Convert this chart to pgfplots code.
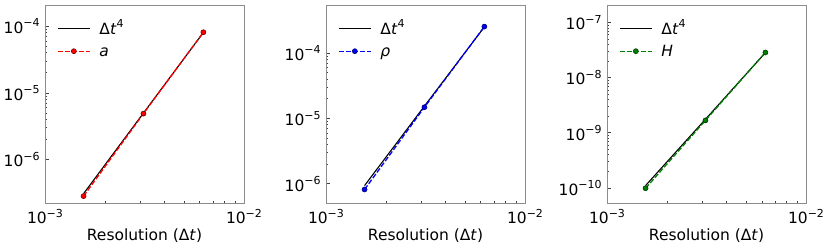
\documentclass[border=0pt]{standalone}
\usepackage{fontspec}
\setmainfont{DejaVu Sans}
\usepackage{pgfplots}
\pgfplotsset{compat=1.18}
\newcommand{\supr}[1]{\raisebox{0.42em}{\fontsize{11}{11}\selectfont #1}}
\newcommand{\sci}[1]{10\supr{−#1}}
\newcommand{\dtf}{Δ\textit{t}\supr{4}}
\pgfplotsset{
  legend image code/.code={\draw[mark repeat=2,mark phase=2,#1] plot coordinates {(0pt,0pt) (16pt,0pt) (32pt,0pt)};},
  every axis/.append style={
    scale only axis, width=199pt, height=198.5pt,
    xmin=1e-3, xmax=1e-2, xtick={1e-3,1e-2}, xticklabels={\sci{3},\sci{2}},
    xtick pos=bottom, ytick pos=left, tick align=inside,
    axis line style={draw=black!45, line width=0.9pt},
    major tick length=4pt, minor tick length=2.5pt,
    every tick/.style={black!75, line width=0.7pt},
    xlabel={Resolution (Δ\textit{t})},
    xlabel style={at={(axis description cs:0.5,0)}, anchor=base, yshift=-36.5pt},
    legend style={draw=none, fill=none, at={(0,1)}, anchor=north west, xshift=12pt, yshift=-13pt, inner sep=0pt, row sep=1.5pt, column sep=7pt, nodes={inner sep=2pt, text height=14pt, text depth=3pt}},
    legend cell align=left,
  },
}
\tikzset{
  refl/.style={black, line width=1.1pt},
  datl/.style={#1, line width=1.3pt, dash pattern=on 5pt off 2pt, mark=*, mark size=2.5pt, mark options={solid, fill=#1, draw=#1!45!black, line width=0.6pt}},
}
\begin{document}
\fontsize{15.5}{18}\selectfont
\begin{tikzpicture}
\useasboundingbox (0,0) rectangle (830pt,248pt);
\begin{loglogaxis}[at={(45pt,44.5pt)}, anchor=south west,
  ymin=2.21e-7, ymax=2.07e-4, ytick={1e-6,1e-5,1e-4}, yticklabels={\sci{6},\sci{5},\sci{4}}]
\addplot[refl, mark=none] coordinates {(1.5625e-3,3.1e-7) (3.125e-3,5.0e-6) (6.25e-3,8.0e-5)};
\addlegendentry{\dtf}
\addplot[datl=red] coordinates {(1.5625e-3,2.85e-7) (3.125e-3,4.9e-6) (6.25e-3,8.1e-5)};
\addlegendentry{\textit{a}}
\end{loglogaxis}
\begin{loglogaxis}[at={(326pt,44.5pt)}, anchor=south west,
  ymin=5.0e-7, ymax=5.46e-4, ytick={1e-6,1e-5,1e-4}, yticklabels={\sci{6},\sci{5},\sci{4}}]
\addplot[refl, mark=none] coordinates {(1.5625e-3,9.4e-7) (3.125e-3,1.55e-5) (6.25e-3,2.52e-4)};
\addlegendentry{\dtf}
\addplot[datl=blue] coordinates {(1.5625e-3,8.2e-7) (3.125e-3,1.49e-5) (6.25e-3,2.55e-4)};
\addlegendentry{\textit{ρ}}
\end{loglogaxis}
\begin{loglogaxis}[at={(607pt,44.5pt)}, anchor=south west,
  ymin=5.2e-11, ymax=2.09e-7, ytick={1e-10,1e-9,1e-8,1e-7}, yticklabels={\sci{10},\sci{9},\sci{8},\sci{7}}]
\addplot[refl, mark=none] coordinates {(1.5625e-3,1.1e-10) (3.125e-3,1.76e-9) (6.25e-3,2.85e-8)};
\addlegendentry{\dtf}
\addplot[datl=green!50!black] coordinates {(1.5625e-3,9.85e-11) (3.125e-3,1.68e-9) (6.25e-3,2.87e-8)};
\addlegendentry{\textit{H}}
\end{loglogaxis}
\end{tikzpicture}
\end{document}
